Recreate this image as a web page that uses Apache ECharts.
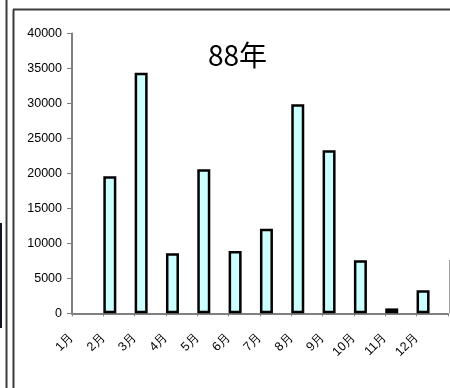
<!DOCTYPE html>
<html>
<head>
<meta charset="utf-8">
<script src="https://cdn.jsdelivr.net/npm/echarts@6/dist/echarts.min.js"></script>
<style>
html,body{margin:0;padding:0;background:#fff;}
#c{width:450px;height:388px;}
</style>
</head>
<body>
<div id="c"></div>
<script>
var categories = ['1月','2月','3月','4月','5月','6月','7月','8月','9月','10月','11月','12月',''];
var values = [null, 19600, 34400, 8600, 20600, 8900, 12100, 29900, 23300, 7600, 700, 3300, null];
var yTicks = { min: 0, max: 40000, interval: 5000 };
var titleText = '88年';

var chart = echarts.init(document.getElementById('c'), null, {renderer: 'canvas'});
var emptySeries = categories.map(function(){ return null; });
chart.setOption({
  animation: false,
  backgroundColor: '#ffffff',
  grid: { left: 72, top: 33.5, bottom: 74.7, right: -0.6, containLabel: false },
  xAxis: {
    type: 'category',
    data: categories,
    boundaryGap: false,
    axisLine: { lineStyle: { color: '#808080', width: 2 } },
    axisTick: { show: true, length: 3, lineStyle: { color: '#808080', width: 1 } },
    axisLabel: {
      rotate: 45, margin: 22, color: '#000',
      fontSize: 12.5, fontFamily: 'Liberation Sans, Arial, sans-serif',
      interval: 0
    },
    splitLine: { show: false }
  },
  yAxis: {
    type: 'value',
    min: yTicks.min, max: yTicks.max, interval: yTicks.interval,
    axisLine: { show: true, lineStyle: { color: '#808080', width: 2 } },
    axisTick: { show: true, length: 5, lineStyle: { color: '#808080', width: 1 } },
    axisLabel: { margin: 10, color: '#000', fontSize: 12.5, fontFamily: 'Liberation Sans, Arial, sans-serif',
      formatter: function (v) { return String(v); } },
    splitLine: { show: false }
  },
  series: [
    { type: 'bar', data: emptySeries, barWidth: 13, barGap: '0%', silent: true },
    {
      type: 'bar', data: values, barWidth: 13, barGap: '0%',
      itemStyle: { color: '#CCFFFF', borderColor: '#000', borderWidth: 2.5 }
    }
  ],
  graphic: [
    { type: 'text', x: 237.5, y: 55, style: { text: titleText, fill: '#000', font: '28px "Noto Sans CJK JP", sans-serif', textAlign: 'center', textVerticalAlign: 'middle' } },
    { type: 'line', shape: { x1: 6.5, y1: 0, x2: 6.5, y2: 388 }, style: { stroke: '#3a3a3a', lineWidth: 2 } },
    { type: 'line', shape: { x1: 13.5, y1: 9.5, x2: 13.5, y2: 388 }, style: { stroke: '#3a3a3a', lineWidth: 2 } },
    { type: 'line', shape: { x1: 13, y1: 9.5, x2: 450, y2: 9.5 }, style: { stroke: '#3a3a3a', lineWidth: 2 } },
    { type: 'rect', shape: { x: 0, y: 223, width: 2, height: 105 }, style: { fill: '#151520' } },
    { type: 'line', shape: { x1: 449.5, y1: 260, x2: 449.5, y2: 313 }, style: { stroke: '#a0a0a0', lineWidth: 1 } }
  ]
});
</script>
</body>
</html>
